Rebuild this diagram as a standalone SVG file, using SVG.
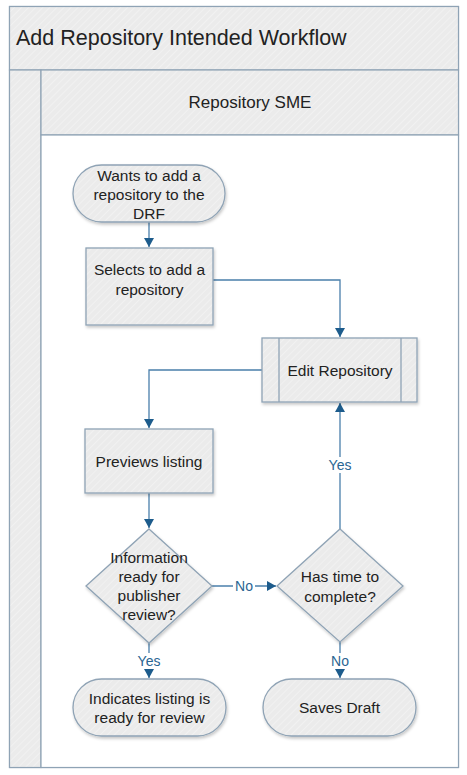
<svg xmlns="http://www.w3.org/2000/svg" width="467" height="775" viewBox="0 0 467 775">
<defs>
<pattern id="hatch" patternUnits="userSpaceOnUse" width="5" height="5" patternTransform="rotate(45)">
<rect width="5" height="5" fill="#ebebeb"/>
<line x1="0" y1="0" x2="0" y2="5" stroke="#f3f3f3" stroke-width="1.5"/>
</pattern>
<filter id="sh" x="-10%" y="-10%" width="130%" height="140%">
<feDropShadow dx="1" dy="2" stdDeviation="1.5" flood-color="#000" flood-opacity="0.22"/>
</filter>
<marker id="arr" markerUnits="userSpaceOnUse" markerWidth="10" markerHeight="10" refX="9" refY="5" orient="auto">
<path d="M0,0 L9,5 L0,10 Z" fill="#1d5c8c"/>
</marker>
</defs>
<style>
.band{fill:url(#hatch);stroke:#8fa3b5;stroke-width:1.2}
.node{fill:url(#hatch);stroke:#8fa3b5;stroke-width:1.3;filter:url(#sh)}
.t{font-family:"Liberation Sans",Arial,sans-serif;font-size:15.5px;fill:#222;text-anchor:middle}
.c{fill:none;stroke:#4a7fab;stroke-width:1.3}
.ca{fill:none;stroke:#4a7fab;stroke-width:1.3;marker-end:url(#arr)}
.lbl{font-family:"Liberation Sans",Arial,sans-serif;font-size:14px;fill:#2a6592;text-anchor:middle}
</style>
<rect width="467" height="775" fill="#ffffff"/>
<g id="pool">
<rect x="9.5" y="6.5" width="449" height="761" fill="#ffffff" stroke="#8fa3b5" stroke-width="1.2"/>
<rect class="band" x="9.5" y="6.5" width="449" height="63.5"/>
<rect class="band" x="9.5" y="70" width="31.5" height="697.5"/>
<rect class="band" x="41" y="70" width="417.5" height="65"/>
<rect x="41" y="135" width="417.5" height="632.5" fill="#ffffff" stroke="#8fa3b5" stroke-width="1.2"/>
<text x="16" y="44.5" style="font-family:'Liberation Sans',Arial,sans-serif;font-size:21.5px;fill:#222">Add Repository Intended Workflow</text>
<text x="250" y="108" style="font-family:'Liberation Sans',Arial,sans-serif;font-size:17px;fill:#222;text-anchor:middle">Repository SME</text>
</g>
<g id="connectors">
<path class="ca" d="M149,222 V247"/>
<path class="ca" d="M213,280 H340 V337"/>
<path class="ca" d="M262,370 H149 V428"/>
<path class="ca" d="M149,493 V528"/>
<path class="ca" d="M212,586 H276"/>
<path class="ca" d="M340,529 V403"/>
<path class="ca" d="M149,643 V678"/>
<path class="ca" d="M340,642 V678"/>
<rect x="233" y="578" width="22" height="16" fill="#ffffff"/>
<text class="lbl" x="244" y="591">No</text>
<rect x="327" y="457" width="26" height="16" fill="#ffffff"/>
<text class="lbl" x="340" y="470">Yes</text>
<rect x="136" y="653" width="26" height="16" fill="#ffffff"/>
<text class="lbl" x="149" y="666">Yes</text>
<rect x="329" y="653" width="22" height="16" fill="#ffffff"/>
<text class="lbl" x="340" y="666">No</text>
</g>
<g id="start">
<rect class="node" x="73" y="165" width="152" height="57" rx="28.5"/>
<text class="t" x="149" y="180.5">Wants to add a</text>
<text class="t" x="149" y="199.5">repository to the</text>
<text class="t" x="149" y="218.5">DRF</text>
</g>
<g id="selects">
<rect class="node" x="86" y="248" width="127" height="77"/>
<text class="t" x="149.5" y="274.5">Selects to add a</text>
<text class="t" x="149.5" y="294.5">repository</text>
</g>
<g id="edit">
<rect class="node" x="262" y="338" width="155" height="64"/>
<line x1="279" y1="338" x2="279" y2="402" stroke="#8fa3b5" stroke-width="1.3"/>
<line x1="401" y1="338" x2="401" y2="402" stroke="#8fa3b5" stroke-width="1.3"/>
<text class="t" x="340" y="375.5">Edit Repository</text>
</g>
<g id="previews">
<rect class="node" x="85" y="429" width="128" height="64"/>
<text class="t" x="149" y="466.5">Previews listing</text>
</g>
<g id="decision1">
<polygon class="node" points="149,529 212,586 149,643 86,586"/>
<text class="t" x="149" y="562.5">Information</text>
<text class="t" x="149" y="581.5">ready for</text>
<text class="t" x="149" y="600.5">publisher</text>
<text class="t" x="149" y="619.5">review?</text>
</g>
<g id="decision2">
<polygon class="node" points="340,529 403,586 340,642 277,586"/>
<text class="t" x="340" y="581.5">Has time to</text>
<text class="t" x="340" y="601.5">complete?</text>
</g>
<g id="indicates">
<rect class="node" x="73" y="679" width="153" height="57" rx="28.5"/>
<text class="t" x="149.5" y="703.5">Indicates listing is</text>
<text class="t" x="149.5" y="722.5">ready for review</text>
</g>
<g id="saves">
<rect class="node" x="263" y="679" width="153" height="57" rx="28.5"/>
<text class="t" x="339.5" y="712.5">Saves Draft</text>
</g>
</svg>
